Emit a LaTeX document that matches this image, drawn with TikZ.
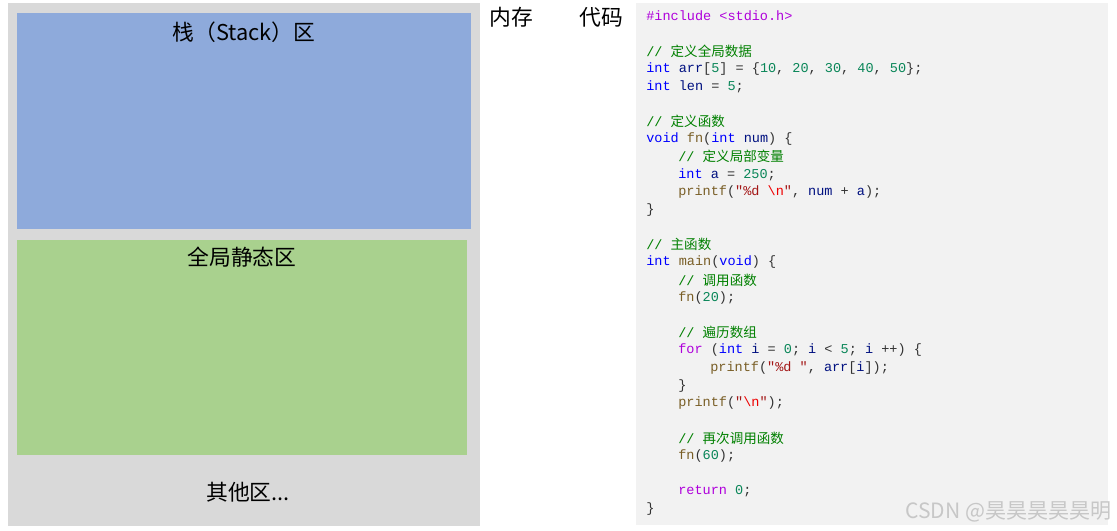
\documentclass[tikz,border=0pt]{standalone}
\usepackage{fontspec}
\setmainfont{Noto Sans CJK SC}
\setmonofont{Liberation Mono}
\newfontfamily\cjk{Noto Sans CJK SC}
\usetikzlibrary{positioning}

\definecolor{memgray}{HTML}{D9D9D9}
\definecolor{stackblue}{HTML}{8EAADB}
\definecolor{globgreen}{HTML}{A9D18E}
\definecolor{codebg}{HTML}{F2F2F2}
\definecolor{kwblue}{HTML}{0000FF}
\definecolor{kwpurple}{HTML}{AF00DB}
\definecolor{numteal}{HTML}{098658}
\definecolor{cmtgreen}{HTML}{008000}
\definecolor{fnbrown}{HTML}{795E26}
\definecolor{varnavy}{HTML}{001080}
\definecolor{strred}{HTML}{A31515}
\definecolor{escred}{HTML}{EE0000}
\definecolor{punct}{HTML}{333333}

\newcommand\ckw[1]{\textcolor{kwblue}{#1}}
\newcommand\cpp[1]{\textcolor{kwpurple}{#1}}
\newcommand\cnum[1]{\textcolor{numteal}{#1}}
\newcommand\ccmt[1]{\textcolor{cmtgreen}{// {\cjk #1}}}
\newcommand\cfn[1]{\textcolor{fnbrown}{#1}}
\newcommand\cvar[1]{\textcolor{varnavy}{#1}}
\newcommand\cstr[1]{\textcolor{strred}{#1}}
\newcommand\cesc{\textcolor{escred}{\textbackslash n}}

\begin{document}
\begin{tikzpicture}[x=0.02cm,y=-0.02cm,
 area/.style={inner sep=0pt,anchor=north west},
 lbl/.style={font=\fontsize{12.4}{14}\selectfont,text=black,inner sep=0pt},
 cl/.style={anchor=west,inner sep=0pt,text=punct,font=\ttfamily\fontsize{7.7}{10}\selectfont}]
\useasboundingbox (0,0) rectangle (1117,531);
% memory
\node[area,fill=memgray,minimum width=472*0.02cm,minimum height=523*0.02cm] (mem) at (8,3) {};
\node[area,fill=stackblue,minimum width=454*0.02cm,minimum height=216*0.02cm] (stack) at (17,13) {};
\node[area,fill=globgreen,minimum width=450*0.02cm,minimum height=215*0.02cm] (glob) at (17,240) {};
\node[lbl] (stacklbl) at (244,32) {栈（Stack）区};
\node[lbl] (globlbl) at (242,257) {全局静态区};
\node[lbl] (otherlbl) at (248,492) {其他区...};
% titles
\node[lbl] (memtitle) at (511,17) {内存};
\node[lbl] (codetitle) at (601,17) {代码};
% code
\node[area,fill=codebg,minimum width=472*0.02cm,minimum height=522*0.02cm] (code) at (636,3) {};
\node[cl] (c0) at (646,16.0) {\cpp{\#include <stdio.h>}};
\node[cl] (c2) at (646,51.2) {\ccmt{定义全局数据}};
\node[cl] (c3) at (646,68.8) {\ckw{int} \cvar{arr}[\cnum{5}] = \{\cnum{10}, \cnum{20}, \cnum{30}, \cnum{40}, \cnum{50}\};};
\node[cl] (c4) at (646,86.4) {\ckw{int} \cvar{len} = \cnum{5};};
\node[cl] (c6) at (646,121.6) {\ccmt{定义函数}};
\node[cl] (c7) at (646,139.2) {\ckw{void} \cfn{fn}(\ckw{int} \cvar{num}) \{};
\node[cl] (c8) at (678,156.8) {\ccmt{定义局部变量}};
\node[cl] (c9) at (678,174.4) {\ckw{int} \cvar{a} = \cnum{250};};
\node[cl] (c10) at (678,192.0) {\cfn{printf}(\cstr{"\%d }\cesc\cstr{"}, \cvar{num} + \cvar{a});};
\node[cl] (c11) at (646,209.6) {\}};
\node[cl] (c13) at (646,244.8) {\ccmt{主函数}};
\node[cl] (c14) at (646,262.4) {\ckw{int} \cfn{main}(\ckw{void}) \{};
\node[cl] (c15) at (678,280.0) {\ccmt{调用函数}};
\node[cl] (c16) at (678,297.6) {\cfn{fn}(\cnum{20});};
\node[cl] (c18) at (678,332.8) {\ccmt{遍历数组}};
\node[cl] (c19) at (678,350.4) {\cpp{for} (\ckw{int} \cvar{i} = \cnum{0}; \cvar{i} < \cnum{5}; \cvar{i} ++) \{};
\node[cl] (c20) at (710,368.0) {\cfn{printf}(\cstr{"\%d "}, \cvar{arr}[\cvar{i}]);};
\node[cl] (c21) at (678,385.6) {\}};
\node[cl] (c22) at (678,403.2) {\cfn{printf}(\cstr{"}\cesc\cstr{"});};
\node[cl] (c24) at (678,438.4) {\ccmt{再次调用函数}};
\node[cl] (c25) at (678,456.0) {\cfn{fn}(\cnum{60});};
\node[cl] (c27) at (678,491.2) {\cpp{return} \cnum{0};};
\node[cl] (c28) at (646,508.8) {\}};
% watermark
\node[anchor=east,inner sep=0pt,text=black!22,font=\fontsize{12}{14}\selectfont] (mark) at (1112,512) {CSDN @昊昊昊昊昊明};
\end{tikzpicture}
\end{document}
